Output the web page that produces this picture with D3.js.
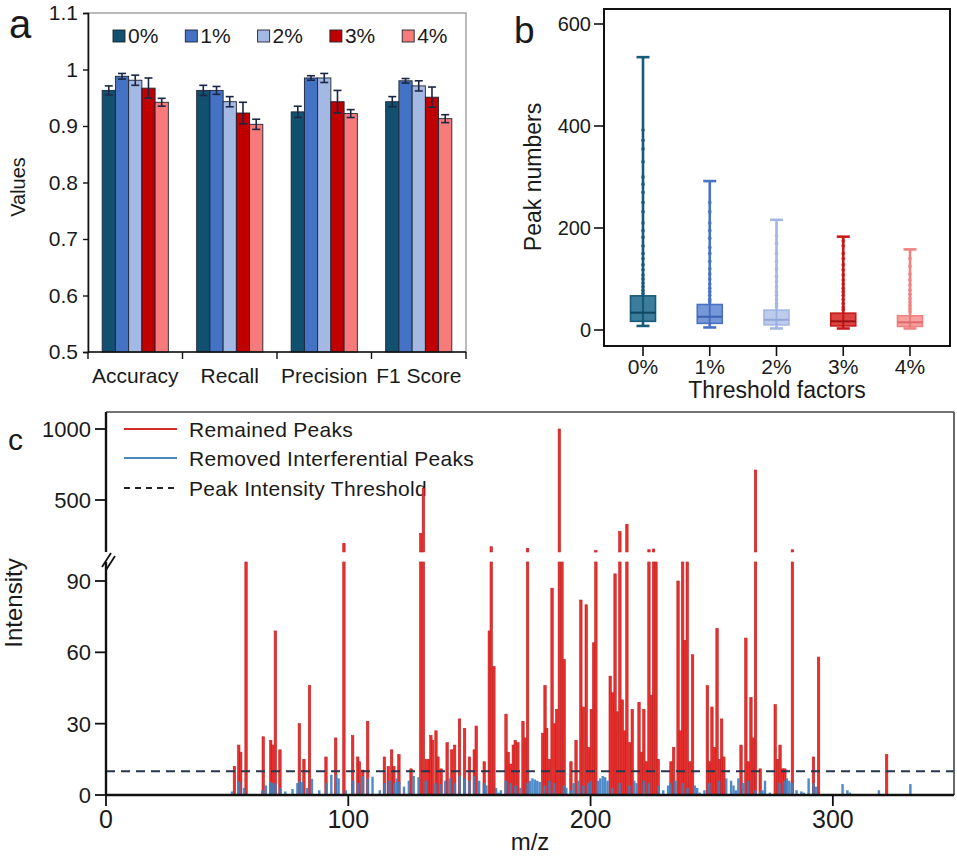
<!DOCTYPE html>
<html><head><meta charset="utf-8">
<script src="https://cdn.jsdelivr.net/npm/d3@7"></script>
<style>
body{margin:0;background:#fff}
svg{display:block}
text{font-family:"Liberation Sans",Arial,Helvetica,sans-serif;fill:#1a1a1a}
</style>
</head><body>
<svg id="chart" width="957" height="857"></svg>
<script>
// ---------- DATA ----------
// Panel a
const metrics = ["Accuracy", "Recall", "Precision", "F1 Score"];
const thresholds = ["0%", "1%", "2%", "3%", "4%"];
const values0 = [0.963, 0.963, 0.925, 0.943];
const values1 = [0.988, 0.963, 0.985, 0.980];
const values2 = [0.981, 0.943, 0.985, 0.971];
const values3 = [0.967, 0.923, 0.943, 0.951];
const values4 = [0.942, 0.903, 0.922, 0.913];
const errors0 = [0.008, 0.009, 0.010, 0.009];
const errors1 = [0.005, 0.007, 0.004, 0.004];
const errors2 = [0.009, 0.009, 0.008, 0.009];
const errors3 = [0.018, 0.019, 0.020, 0.018];
const errors4 = [0.007, 0.009, 0.007, 0.007];
const aTicks = [0.5, 0.6, 0.7, 0.8, 0.9, 1.0, 1.1];

// Panel b (box plots)
const boxMin = [8, 5, 3, 3, 3];
const boxQ1 = [17, 13, 10, 8, 7];
const boxMedian = [34, 26, 20, 17, 15];
const boxQ3 = [67, 50, 39, 33, 28];
const boxMax = [535, 292, 216, 183, 158];
const outliers0 = [392, 372, 355, 330, 300, 286, 270, 250, 232, 210, 195, 182, 165, 150, 140, 128, 118, 108, 100, 92, 85, 78, 72];
const outliers1 = [250, 232, 210, 195, 180, 162, 150, 135, 120, 110, 100, 90, 82, 75, 68, 60, 55];
const outliers2 = [185, 170, 150, 135, 120, 105, 95, 85, 75, 68, 60, 52, 46];
const outliers3 = [175, 165, 150, 140, 128, 118, 108, 98, 90, 82, 75, 68, 60, 52, 45, 40];
const outliers4 = [140, 125, 110, 98, 88, 78, 70, 62, 55, 48, 42, 36];
const bTicks = [0, 200, 400, 600];

// Panel c (spectrum): [m/z, intensity]
const remainedPeaks = [
 [53,12],[54.8,21],[55.6,18],[57.8,120],[64.9,24.5],[68,23],[68.8,21],[69.9,69],[71.8,19],
 [79.8,30],[81.7,15],[84,46],[90.8,16],[94.8,24],[98.2,195],[101.8,25],[103.9,16],[104.6,14],
 [106,10.5],[108,31],[114.9,16],[116.5,12],[117.9,19],[118.8,12],[120.9,17],[125.9,11],
 [129.9,265],[131,582],[132.2,15],[133.4,15],[134.1,25],[134.8,23],[136.2,27],[137,16],[138.3,11],
 [140.8,22],[142.7,19],[143.9,21],[145.9,32],[148,28],[150,16],[152,19],[152.8,29],[156.1,14],
 [158.2,69],[159,171],[160.1,54],[165.1,34],[166,18],[167,13],[168.1,21],[168.9,23],[170,22],
 [172.1,31],[173.1,24],[174,160],[180.2,26],[181.2,46],[181.9,28],[183,15],[184.1,87],[185.3,30],
 [186,36],[187.1,1000],[188.2,120],[189.1,57],[191.9,14],[194,23],[196,82],[197,37],[198.2,80],
 [199.3,20],[200.3,36],[201.3,64],[202.2,144],[208.1,50],[209.1,43],[210.1,93],[211,35],
 [212.1,277],[213.1,40],[214.2,27],[215,329],[216.2,22],[217.2,36],[220,39],[221.1,18],[222,36],
 [223,14],[224.1,150],[225.2,42],[226,155],[227,120],[227.9,15],[233.2,14],[234.3,20],[236.1,90],
 [237,27],[238,120],[238.8,65],[239.9,120],[241,14],[242.1,59],[248.2,46],[249.2,14],[250.1,37],
 [251.2,20],[252.2,70],[253.3,15],[254.1,32],[255,16],[262.1,21],[264.1,66],[265.1,14],[266.2,41],
 [267.2,24],[268.1,711],[270,11],[276.2,38],[277.2,15],[278.2,21],[279.3,11],[280.2,11],[283.3,150],
 [292,16],[294.1,58],[322.2,17]
];
const removedPeaks = [
 [52,1.5],[55,5.6],[57,3],[64.5,2],[66,4],[68,5.5],[69,5],[70,4.5],[72,3],[74,1.5],[77,2.5],
 [79,5],[80,6],[81,5.5],[83,3],[85,6.8],[88,2],[91,5],[93,8.5],[95,8.5],[96,7],[99,2],[102,6],
 [104,5],[106,8],[108,7],[110,7.7],[113,2],[115,5],[117,6],[119,5],[120,7],[121,5.5],[123,3.5],
 [125,6],[127,8],[129,7.5],[132,6],[136,5],[138,4.6],[140,6],[142,7],[144,5],[146,8],[148,7],
 [150,6],[152,8],[154,6],[156,5],[157,4],[161,3],[162,1],[163,2],[165,6],[167,5],[169,4],[171,3],
 [174,5],[175,6],[176,7],[177,6.5],[178,6],[179,5.5],[181,4],[183,6],[185,5],[189,4],[190,3],
 [192,2],[193,5],[195,6],[197,4],[199,5],[200,6],[203,6],[204,7],[205,8],[206,7.5],[207,6],
 [209,3],[212,5],[216,4],[218,6],[219,5],[222,6],[224,5],[228,4],[230,2],[232,4],[233,5],[235,6],
 [238,5],[240,3],[243,4],[244,3],[245,1],[247,2],[249,5],[253,6],[256,7],[258,6],[259,4],[260,2],
 [261,7],[263,5],[265,6],[268,2],[270,1.5],[271,2],[272,6],[274,1],[278,5],[280,6],[281,7],
 [282,6],[283,5],[285,2],[287,1.5],[288,1],[290,7],[292,5],[293,3.5],[304,4.6],[306,2],[307,1],
 [319,2],[332,4.6]
];
const intensityThreshold = 10;
const cLowTicks = [0, 30, 60, 90];
const cHighTicks = [500, 1000];
const cXTicks = [0, 100, 200, 300];
const legendC = ["Remained Peaks", "Removed Interferential Peaks", "Peak Intensity Threshold"];

// ---------- STYLES ----------
const barColors = ["#12506f", "#4472c4", "#a3b8e2", "#c00000", "#f77b7b"];
const boxStroke = ["#175b7a", "#4a72c4", "#a2b7e3", "#c81a1a", "#f08282"];
const boxFill = ["#2b7292", "#6a8fd6", "#b7c8ec", "#d93434", "#f69999"];
const boxMed = ["#0f4660", "#3a62b0", "#8fa7d8", "#a00f0f", "#e06868"];

const svg = d3.select("#chart");

// ================= PANEL A =================
const gA = svg.append("g");
const aX = d3.scaleBand().domain(metrics).range([88, 466]);
const aIn = d3.scaleBand().domain(thresholds).range([aX.bandwidth() * 0.15, aX.bandwidth() * 0.85]);
const aY = d3.scaleLinear().domain([0.5, 1.1]).range([352, 13]);
const seriesVals = [values0, values1, values2, values3, values4];
const seriesErrs = [errors0, errors1, errors2, errors3, errors4];

gA.append("rect").attr("x", 88).attr("y", aY(1.1)).attr("width", 466 - 88).attr("height", aY(0.5) - aY(1.1))
  .attr("fill", "none").attr("stroke", "#8c8c8c").attr("stroke-width", 1.2);

thresholds.forEach((t, si) => {
  const g = gA.append("g");
  metrics.forEach((m, mi) => {
    const v = seriesVals[si][mi], e = seriesErrs[si][mi];
    const x0 = aX(m) + aIn(t);
    g.append("rect").attr("x", x0).attr("y", aY(v)).attr("width", aIn.bandwidth())
      .attr("height", aY(0.5) - aY(v)).attr("fill", barColors[si]).attr("stroke", "#1e2433").attr("stroke-width", 0.9);
    const cx = x0 + aIn.bandwidth() / 2;
    g.append("line").attr("x1", cx).attr("x2", cx).attr("y1", aY(v - e)).attr("y2", aY(v + e))
      .attr("stroke", "#1b2745").attr("stroke-width", 1.6);
    [v - e, v + e].forEach(yy => g.append("line").attr("x1", cx - 4).attr("x2", cx + 4)
      .attr("y1", aY(yy)).attr("y2", aY(yy)).attr("stroke", "#1b2745").attr("stroke-width", 1.6));
  });
});

const aAxis = gA.append("g").attr("transform", "translate(88,0)")
  .call(d3.axisLeft(aY).tickValues(aTicks).tickSize(5).tickPadding(5)
    .tickFormat(d => String(+d.toFixed(1))));
aAxis.select(".domain").attr("stroke", "#111").attr("stroke-width", 1.6);
aAxis.selectAll(".tick line").attr("stroke", "#111").attr("stroke-width", 1.4);
aAxis.selectAll("text").attr("font-size", 21).attr("font-family", "Liberation Sans, Arial, sans-serif").attr("fill", "#1a1a1a");

gA.append("line").attr("x1", 88).attr("x2", 466).attr("y1", aY(0.5)).attr("y2", aY(0.5)).attr("stroke", "#111").attr("stroke-width", 1.6);
metrics.concat(["end"]).forEach((m, i) => {
  const x = i < metrics.length ? aX(m) : aX.range()[1];
  gA.append("line").attr("x1", x).attr("x2", x).attr("y1", aY(0.5)).attr("y2", aY(0.5) + 7).attr("stroke", "#111").attr("stroke-width", 1.4);
});
metrics.forEach(m => gA.append("text").attr("x", aX(m) + aX.bandwidth() / 2).attr("y", 383)
  .attr("text-anchor", "middle").attr("font-size", 21).text(m));

gA.append("text").attr("transform", "translate(25,187) rotate(-90)").attr("text-anchor", "middle")
  .attr("font-size", 20).text("Values");
gA.append("text").attr("x", 9).attr("y", 38).attr("font-size", 40).text("a");

const aLeg = d3.scaleBand().domain(thresholds).range([113, 113 + 72.3 * 5]);
thresholds.forEach((t, i) => {
  gA.append("rect").attr("x", aLeg(t)).attr("y", 30).attr("width", 12).attr("height", 12)
    .attr("fill", barColors[i]).attr("stroke", "#1e2433").attr("stroke-width", 0.9);
  gA.append("text").attr("x", aLeg(t) + 15).attr("y", 43).attr("font-size", 21).text(t);
});

// ================= PANEL B =================
const gB = svg.append("g");
const bX = d3.scalePoint().domain(thresholds).range([643, 910]);
const bY = d3.scaleLinear().domain([0, 600]).range([330, 24]);
const outlierSets = [outliers0, outliers1, outliers2, outliers3, outliers4];

thresholds.forEach((t, i) => {
  const x = bX(t);
  const g = gB.append("g");
  g.append("line").attr("x1", x).attr("x2", x).attr("y1", bY(boxMin[i])).attr("y2", bY(boxMax[i]))
    .attr("stroke", boxStroke[i]).attr("stroke-width", 2.6);
  [boxMin[i], boxMax[i]].forEach(v => g.append("line").attr("x1", x - 6.5).attr("x2", x + 6.5)
    .attr("y1", bY(v)).attr("y2", bY(v)).attr("stroke", boxStroke[i]).attr("stroke-width", 2.6));
  outlierSets[i].forEach(v => g.append("circle").attr("cx", x).attr("cy", bY(v)).attr("r", 1.9)
    .attr("fill", boxStroke[i]).attr("opacity", 0.85));
  g.append("rect").attr("x", x - 12.5).attr("width", 25).attr("y", bY(boxQ3[i]))
    .attr("height", bY(boxQ1[i]) - bY(boxQ3[i])).attr("fill", boxFill[i]).attr("fill-opacity", 0.92)
    .attr("stroke", boxStroke[i]).attr("stroke-width", 1.6);
  g.append("line").attr("x1", x).attr("x2", x).attr("y1", bY(boxQ1[i])).attr("y2", bY(boxQ3[i]))
    .attr("stroke", boxMed[i]).attr("stroke-width", 1.6).attr("opacity", 0.7);
  g.append("line").attr("x1", x - 12.5).attr("x2", x + 12.5).attr("y1", bY(boxMedian[i])).attr("y2", bY(boxMedian[i]))
    .attr("stroke", boxMed[i]).attr("stroke-width", 2);
});

gB.append("rect").attr("x", 604).attr("y", 9).attr("width", 950 - 604).attr("height", 346 - 9)
  .attr("fill", "none").attr("stroke", "#111").attr("stroke-width", 2);
bTicks.forEach(v => {
  gB.append("line").attr("x1", 594).attr("x2", 604).attr("y1", bY(v)).attr("y2", bY(v)).attr("stroke", "#111").attr("stroke-width", 1.6);
  gB.append("text").attr("x", 591).attr("y", bY(v)).attr("dy", "0.36em").attr("text-anchor", "end").attr("font-size", 20).text(v);
});
thresholds.forEach(t => {
  gB.append("line").attr("x1", bX(t)).attr("x2", bX(t)).attr("y1", 346).attr("y2", 356).attr("stroke", "#111").attr("stroke-width", 1.6);
  gB.append("text").attr("x", bX(t)).attr("y", 374).attr("text-anchor", "middle").attr("font-size", 21).text(t);
});
gB.append("text").attr("x", 777).attr("y", 398).attr("text-anchor", "middle").attr("font-size", 23).text("Threshold factors");
gB.append("text").attr("transform", "translate(541,177) rotate(-90)").attr("text-anchor", "middle").attr("font-size", 23).text("Peak numbers");
gB.append("text").attr("x", 514).attr("y", 43).attr("font-size", 37).text("b");

// ================= PANEL C =================
const gC = svg.append("g");
const cX = d3.scaleLinear().domain([0, 350]).range([106, 954]);
const cYLow = d3.scaleLinear().domain([0, 90]).range([795, 581]);
const cYHigh = d3.scaleLinear().domain([500, 1000]).range([500, 429]);
const lowMax = 98, highMin = 134;
const bw = cX(1) - cX(0);

// legend (drawn beneath peaks)
const legY = [429, 458, 488];
gC.append("line").attr("x1", 124).attr("x2", 177).attr("y1", legY[0]).attr("y2", legY[0]).attr("stroke", "#d42a2a").attr("stroke-width", 2);
gC.append("line").attr("x1", 124).attr("x2", 177).attr("y1", legY[1]).attr("y2", legY[1]).attr("stroke", "#4a86b8").attr("stroke-width", 2);
gC.append("line").attr("x1", 124).attr("x2", 177).attr("y1", legY[2]).attr("y2", legY[2]).attr("stroke", "#222").attr("stroke-width", 2).attr("stroke-dasharray", "6,5");
legendC.forEach((t, i) => gC.append("text").attr("x", 189).attr("y", legY[i]).attr("dy", "0.36em")
  .attr("font-size", 21).attr("letter-spacing", "0.3px").text(t));

// red remained peaks
const gRed = gC.append("g");
remainedPeaks.forEach(([mz, v]) => {
  const x = cX(mz) - bw / 2;
  const top = cYLow(Math.min(v, lowMax));
  gRed.append("rect").attr("x", x).attr("y", top).attr("width", bw).attr("height", cYLow(0) - top)
    .attr("fill", "#e8312f").attr("stroke", "#c21d1d").attr("stroke-width", 0.6);
  if (v > highMin) {
    const t2 = cYHigh(v), b2 = cYHigh(highMin);
    gRed.append("rect").attr("x", x).attr("y", t2).attr("width", bw).attr("height", Math.max(b2 - t2, 1.5))
      .attr("fill", "#e8312f").attr("stroke", "#c21d1d").attr("stroke-width", 0.6);
  }
});
// blue removed peaks
const gBlue = gC.append("g");
removedPeaks.forEach(([mz, v]) => {
  gBlue.append("rect").attr("x", cX(mz) - bw / 2).attr("y", cYLow(v)).attr("width", bw)
    .attr("height", cYLow(0) - cYLow(v)).attr("fill", "#3a80c2").attr("fill-opacity", 0.9);
});

// threshold line
gC.append("line").attr("x1", cX(0)).attr("x2", cX(350)).attr("y1", cYLow(intensityThreshold)).attr("y2", cYLow(intensityThreshold))
  .attr("stroke", "#26364d").attr("stroke-width", 2).attr("stroke-dasharray", "9,6");

// frame / axes
gC.append("line").attr("x1", cX(0)).attr("x2", cX(350)).attr("y1", 412).attr("y2", 412).attr("stroke", "#444").attr("stroke-width", 1.6);
gC.append("line").attr("x1", cX(350)).attr("x2", cX(350)).attr("y1", 412).attr("y2", 795).attr("stroke", "#444").attr("stroke-width", 1.6);
gC.append("line").attr("x1", cX(0)).attr("x2", cX(350)).attr("y1", cYLow(0)).attr("y2", cYLow(0)).attr("stroke", "#111").attr("stroke-width", 2.4);
gC.append("line").attr("x1", cX(0)).attr("x2", cX(0)).attr("y1", cYLow(0)).attr("y2", cYLow(lowMax)).attr("stroke", "#111").attr("stroke-width", 2.4);
gC.append("line").attr("x1", cX(0)).attr("x2", cX(0)).attr("y1", cYHigh(highMin)).attr("y2", 412).attr("stroke", "#111").attr("stroke-width", 2.4);
// break marks
[[0, 0], [4, 3]].forEach(([dx, dy]) => gC.append("line")
  .attr("x1", cX(0) - 4 + dx).attr("y1", 567 + dy).attr("x2", cX(0) + 5 + dx).attr("y2", 553 + dy)
  .attr("stroke", "#111").attr("stroke-width", 1.8));

cLowTicks.forEach(v => {
  gC.append("line").attr("x1", 95).attr("x2", cX(0)).attr("y1", cYLow(v)).attr("y2", cYLow(v)).attr("stroke", "#111").attr("stroke-width", 1.8);
  gC.append("text").attr("x", 91).attr("y", cYLow(v)).attr("dy", "0.36em").attr("text-anchor", "end").attr("font-size", 22).text(v);
});
cHighTicks.forEach(v => {
  gC.append("line").attr("x1", 95).attr("x2", cX(0)).attr("y1", cYHigh(v)).attr("y2", cYHigh(v)).attr("stroke", "#111").attr("stroke-width", 1.8);
  gC.append("text").attr("x", 91).attr("y", cYHigh(v)).attr("dy", "0.36em").attr("text-anchor", "end").attr("font-size", 22).text(v);
});
cXTicks.forEach(v => {
  gC.append("line").attr("x1", cX(v)).attr("x2", cX(v)).attr("y1", 795).attr("y2", 806).attr("stroke", "#111").attr("stroke-width", 1.8);
  gC.append("text").attr("x", cX(v)).attr("y", 828).attr("text-anchor", "middle").attr("font-size", 25).text(v);
});
gC.append("text").attr("x", 530).attr("y", 850).attr("text-anchor", "middle").attr("font-size", 24).text("m/z");
gC.append("text").attr("transform", "translate(22,603) rotate(-90)").attr("text-anchor", "middle").attr("font-size", 24).text("Intensity");
gC.append("text").attr("x", 8).attr("y", 450).attr("font-size", 30).text("c");
</script>
</body></html>
